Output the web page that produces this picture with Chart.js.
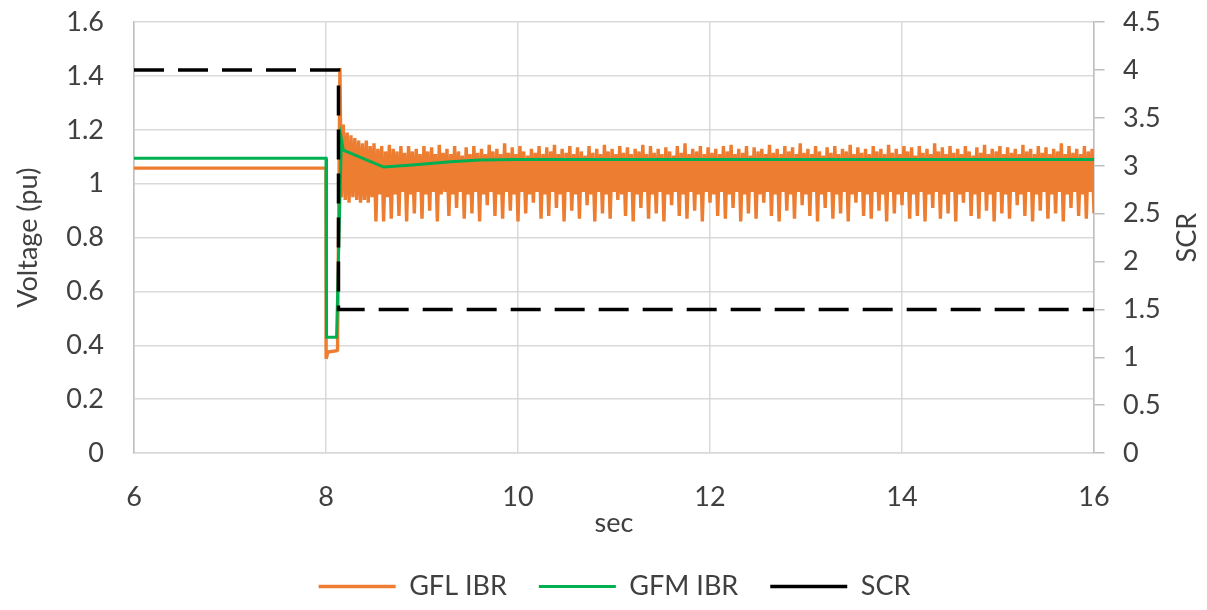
<!DOCTYPE html>
<html><head><meta charset="utf-8">
<script src="https://cdn.jsdelivr.net/npm/chart.js@4.4.1/dist/chart.umd.min.js"></script>
<style>html,body{margin:0;padding:0;background:#fff}#wrap{width:1207px;height:610px;position:relative}</style>
</head><body><div id="wrap"><canvas id="c"></canvas></div>
<script>
// ---- data ----
const xTickLabels = ['6','8','10','12','14','16'];
const yLeftTickLabels = ['0','0.2','0.4','0.6','0.8','1','1.2','1.4','1.6'];
const yRightTickLabels = ['0','0.5','1','1.5','2','2.5','3','3.5','4','4.5'];
const seriesNames = ['GFL IBR','GFM IBR','SCR'];

// GFL IBR: pre-fault + fault segment
const gflLeadT = [6, 8.0, 8.001, 8.02, 8.12, 8.145, 8.16];
const gflLeadV = [1.058, 1.058, 0.35, 0.375, 0.38, 1.43, 0.95];
// GFL IBR: post-fault oscillation, upper peaks (from 8.18 s, every 0.04 s)
const gflOscStart = 8.18;
const gflOscHalfPeriod = 0.02;
const gflPeaks = [
 1.22,1.19,1.18,1.17,1.16,1.15,1.16,1.14,1.15,1.13,1.14,1.12,1.145,1.13,1.12,1.14,1.115,1.14,1.12,1.13,
 1.11,1.14,1.12,1.135,1.11,1.145,1.115,1.13,1.11,1.14,1.12,1.105,1.135,1.11,1.14,1.115,1.13,1.11,1.145,1.12,
 1.13,1.11,1.15,1.115,1.135,1.11,1.14,1.12,1.105,1.13,1.115,1.14,1.11,1.135,1.12,1.145,1.11,1.13,1.115,1.14,
 1.11,1.135,1.12,1.105,1.14,1.115,1.13,1.11,1.145,1.12,1.13,1.11,1.14,1.115,1.135,1.11,1.13,1.12,1.145,1.11,
 1.14,1.115,1.13,1.11,1.135,1.12,1.105,1.14,1.115,1.15,1.11,1.13,1.12,1.14,1.11,1.135,1.115,1.13,1.11,1.14,
 1.12,1.145,1.11,1.13,1.115,1.14,1.105,1.135,1.12,1.13,1.11,1.145,1.115,1.13,1.11,1.14,1.12,1.135,1.11,1.15,
 1.115,1.13,1.11,1.14,1.12,1.105,1.135,1.115,1.14,1.11,1.13,1.12,1.145,1.11,1.135,1.115,1.13,1.11,1.14,1.12,
 1.13,1.11,1.145,1.115,1.13,1.11,1.14,1.12,1.135,1.105,1.14,1.115,1.13,1.11,1.15,1.12,1.135,1.11,1.14,1.115,
 1.13,1.11,1.14,1.12,1.105,1.135,1.115,1.145,1.11,1.13,1.12,1.14,1.11,1.135,1.115,1.13,1.11,1.145,1.12,1.13,
 1.11,1.14,1.115,1.135,1.11,1.13,1.12,1.15,1.11,1.14,1.115,1.13,1.11,1.14,1.12,1.13
];
// GFL IBR: post-fault oscillation, lower troughs (from 8.20 s, every 0.04 s)
const gflTroughs = [
 0.94,0.93,0.95,0.94,0.93,0.94,0.93,0.95,0.86,0.96,0.86,0.95,0.87,0.96,0.88,0.97,0.86,0.96,0.89,0.97,
 0.87,0.96,0.90,0.97,0.86,0.96,0.97,0.88,0.96,0.91,0.97,0.87,0.96,0.89,0.97,0.86,0.96,0.92,0.97,0.88,
 0.96,0.87,0.97,0.90,0.96,0.86,0.97,0.89,0.96,0.93,0.97,0.87,0.96,0.88,0.97,0.91,0.96,0.86,0.97,0.90,
 0.96,0.87,0.97,0.92,0.96,0.86,0.97,0.89,0.96,0.87,0.97,0.94,0.96,0.88,0.97,0.86,0.96,0.91,0.97,0.87,
 0.96,0.89,0.97,0.86,0.96,0.92,0.97,0.88,0.96,0.87,0.97,0.90,0.96,0.86,0.97,0.93,0.96,0.88,0.97,0.87,
 0.96,0.91,0.97,0.86,0.96,0.89,0.97,0.87,0.96,0.93,0.97,0.88,0.96,0.86,0.97,0.90,0.96,0.87,0.97,0.92,
 0.96,0.88,0.97,0.86,0.96,0.91,0.97,0.87,0.96,0.89,0.97,0.86,0.96,0.93,0.97,0.88,0.96,0.87,0.97,0.90,
 0.96,0.86,0.97,0.89,0.96,0.92,0.97,0.87,0.96,0.88,0.97,0.86,0.96,0.91,0.97,0.87,0.96,0.89,0.97,0.86,
 0.96,0.93,0.97,0.88,0.96,0.87,0.97,0.90,0.96,0.86,0.97,0.89,0.96,0.87,0.97,0.92,0.96,0.88,0.97,0.86,
 0.96,0.90,0.97,0.87,0.96,0.89,0.97,0.86,0.96,0.91,0.97,0.88,0.96,0.87,0.97,0.89
];
// GFM IBR
const gfmT = [6, 8.0, 8.005, 8.11, 8.16, 8.18, 8.6, 8.9, 9.3, 9.6, 10, 16];
const gfmV = [1.095, 1.095, 0.43, 0.43, 1.165, 1.125, 1.062, 1.07, 1.082, 1.088, 1.09, 1.09];
// SCR (right axis)
const scrT = [6, 8.13, 8.13, 16];
const scrV = [4, 4, 1.5, 1.5];

// ---- build datasets ----
const gflData = gflLeadT.map((t, i) => ({x: t, y: gflLeadV[i]}));
for (let i = 0; i < gflPeaks.length; i++) {
  gflData.push({x: gflOscStart + 2 * i * gflOscHalfPeriod, y: gflPeaks[i]});
  gflData.push({x: gflOscStart + (2 * i + 1) * gflOscHalfPeriod, y: gflTroughs[i]});
}
const gfmData = gfmT.map((t, i) => ({x: t, y: gfmV[i]}));
const scrData = scrT.map((t, i) => ({x: t, y: scrV[i]}));

const FONT = 'Lato';
const FS = 27;
const TXT = '#404040';
const GRID = '#d9d9d9';
const AXIS = '#bfbfbf';

const rightTitle = {
  id: 'rightTitle',
  afterDraw(chart) {
    const {ctx, chartArea} = chart;
    ctx.save();
    ctx.font = FS + 'px ' + FONT;
    ctx.fillStyle = TXT;
    ctx.textAlign = 'center';
    ctx.textBaseline = 'middle';
    ctx.translate(1187, (chartArea.top + chartArea.bottom) / 2);
    ctx.rotate(-Math.PI / 2);
    ctx.fillText('SCR', 0, 0);
    ctx.restore();
  }
};

new Chart(document.getElementById('c'), {
  type: 'line',
  data: {
    datasets: [
      {label: seriesNames[0], data: gflData, borderColor: '#ED7D31', backgroundColor: '#ED7D31', borderWidth: 3.4, yAxisID: 'y', order: 3, borderJoinStyle: 'bevel'},
      {label: seriesNames[1], data: gfmData, borderColor: '#00B050', backgroundColor: '#00B050', borderWidth: 3, yAxisID: 'y', order: 2},
      {label: seriesNames[2], data: scrData, borderColor: '#000000', backgroundColor: '#000000', borderWidth: 3.5, borderDash: [30, 14], yAxisID: 'y2', order: 1}
    ]
  },
  options: {
    responsive: true,
    maintainAspectRatio: false,
    animation: false,
    events: [],
    elements: {point: {radius: 0}, line: {tension: 0, fill: false}},
    layout: {padding: {top: 22, left: 22, right: 0, bottom: 0}},
    plugins: {
      tooltip: {enabled: false},
      legend: {
        position: 'bottom',
        labels: {
          usePointStyle: true, pointStyle: 'line', pointStyleWidth: 77,
          font: {family: FONT, size: FS}, color: TXT, padding: 32,
          sort: (a, b) => a.datasetIndex - b.datasetIndex
        }
      }
    },
    scales: {
      x: {
        type: 'linear', min: 6, max: 16,
        ticks: {stepSize: 2, font: {family: FONT, size: FS}, color: TXT, padding: 28,
          callback: (v, i) => xTickLabels[i]},
        grid: {color: GRID, lineWidth: 1.5, drawTicks: false},
        border: {color: GRID, width: 1.5},
        title: {display: true, text: 'sec', font: {family: FONT, size: FS}, color: TXT, padding: {top: 0, bottom: 2}},
        afterFit: (s) => { s.height = 88; }
      },
      y: {
        position: 'left', min: 0, max: 1.6,
        ticks: {stepSize: 0.2, font: {family: FONT, size: FS}, color: TXT, padding: 6,
          callback: (v, i) => yLeftTickLabels[i]},
        grid: {color: GRID, lineWidth: 1.5, drawTicks: true, tickLength: 24, tickColor: 'rgba(0,0,0,0)'},
        border: {color: AXIS, width: 1.5},
        title: {display: true, text: 'Voltage (pu)', font: {family: FONT, size: FS}, color: TXT, padding: {top: -10, bottom: 0}},
        afterFit: (s) => { s.width = 112; }
      },
      y2: {
        position: 'right', min: 0, max: 4.5,
        ticks: {stepSize: 0.5, font: {family: FONT, size: FS}, color: TXT, padding: 4,
          callback: (v, i) => yRightTickLabels[i]},
        grid: {drawOnChartArea: false, drawTicks: true, tickLength: 25, tickBorderDash: [10, 60], color: AXIS, lineWidth: 1.5},
        border: {color: AXIS, width: 1.5},
        afterFit: (s) => { s.width = 113; }
      }
    }
  },
  plugins: [rightTitle]
});
</script></body></html>
